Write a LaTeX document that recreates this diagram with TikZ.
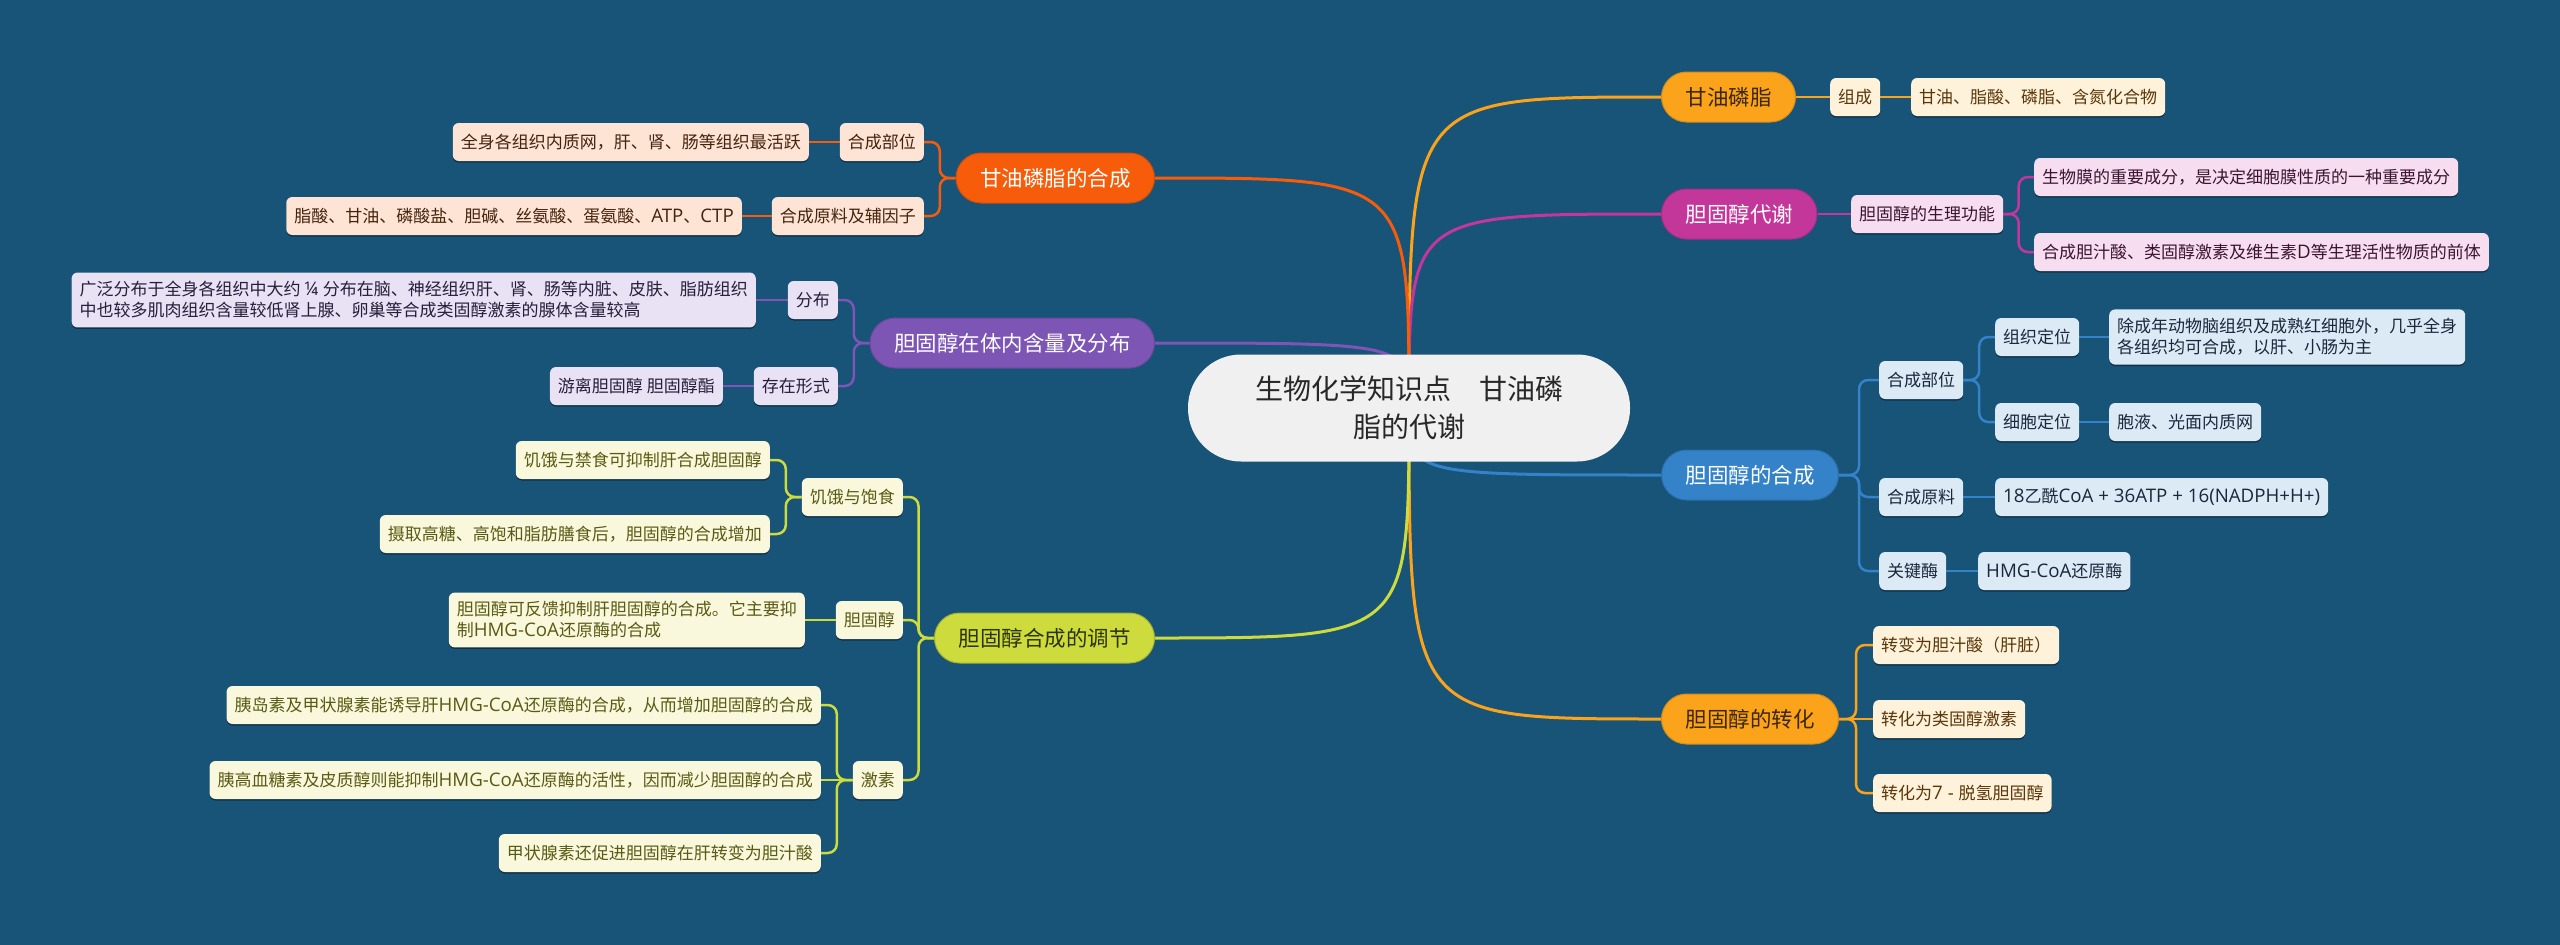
\documentclass[tikz,border=0pt]{standalone}
\usepackage{fontspec}
\setmainfont{Noto Sans CJK SC}
\newfontfamily\lat[Scale=1.1]{Open Sans}
\usetikzlibrary{calc,shadows}
\definecolor{bgc}{RGB}{24,83,120}
\definecolor{rootfill}{RGB}{240,240,240}
\definecolor{roottext}{RGB}{40,40,40}
\definecolor{cA}{RGB}{246,92,10}
\definecolor{fA}{RGB}{253,228,212}
\definecolor{tA}{RGB}{70,35,15}
\definecolor{cB}{RGB}{125,85,180}
\definecolor{fB}{RGB}{232,226,244}
\definecolor{tB}{RGB}{40,30,60}
\definecolor{cC}{RGB}{205,220,60}
\definecolor{fC}{RGB}{249,248,220}
\definecolor{tC}{RGB}{90,90,20}
\definecolor{mtC}{RGB}{45,50,10}
\definecolor{cD}{RGB}{250,163,27}
\definecolor{fD}{RGB}{255,242,218}
\definecolor{tD}{RGB}{90,55,10}
\definecolor{mtD}{RGB}{60,40,5}
\definecolor{cE}{RGB}{195,55,155}
\definecolor{fE}{RGB}{246,222,240}
\definecolor{tE}{RGB}{60,20,50}
\definecolor{cF}{RGB}{52,130,200}
\definecolor{fF}{RGB}{220,234,246}
\definecolor{tF}{RGB}{25,40,60}
\pgfdeclarelayer{bgl}
\pgfdeclarelayer{lines}
\pgfsetlayers{bgl,lines,main}
\newcommand\elb[3]{\draw[subline,#1] let \p1=(#2), \p2=(#3) in (\p1) -- ({(\x1+\x2)/2},\y1) -- ({(\x1+\x2)/2},\y2) -- (\p2);}
\newcommand\sline[3]{\draw[subline,#1] (#2) -- (#3);}
\newcommand\trunk[2]{\draw[mainline,#1] (root.center) .. controls (root.center |- #2) .. (#2);}
\begin{document}
\begin{tikzpicture}[x=1pt,y=-1pt,
  rootnode/.style={fill=rootfill, text=roottext, rounded corners=53pt, minimum width=442pt, minimum height=107pt, align=center, font=\fontsize{28}{38}\selectfont, inner sep=0pt},
  mainnode/.style={rounded corners=25pt, minimum height=50pt, inner xsep=24pt, inner ysep=0pt, font=\fontsize{21.5}{26}\selectfont, line width=1pt},
  mA/.style={mainnode, fill=cA, draw=cA!85!black, text=white},
  mB/.style={mainnode, fill=cB, draw=cB!85!black, text=white},
  mC/.style={mainnode, fill=cC, draw=cC!80!black, text=mtC},
  mD/.style={mainnode, fill=cD, draw=cD!85!black, text=mtD},
  mE/.style={mainnode, fill=cE, draw=cE!85!black, text=white},
  mF/.style={mainnode, fill=cF, draw=cF!85!black, text=white},
  child/.style={rounded corners=6pt, minimum height=38pt, inner xsep=8pt, inner ysep=6pt, font=\fontsize{17}{21}\selectfont, align=left, drop shadow={shadow xshift=0pt, shadow yshift=-1.5pt, opacity=0.4, fill=black}},
  kA/.style={child, fill=fA, text=tA},
  kB/.style={child, fill=fB, text=tB},
  kC/.style={child, fill=fC, text=tC},
  kD/.style={child, fill=fD, text=tD},
  kE/.style={child, fill=fE, text=tE},
  kF/.style={child, fill=fF, text=tF},
  mainline/.style={line width=3pt},
  subline/.style={line width=2.5pt, rounded corners=9pt}
]
\begin{pgfonlayer}{bgl}
\fill[bgc] (0,0) rectangle (2560,945);
\end{pgfonlayer}
\useasboundingbox (0,0) rectangle (2560,945);

% root
\node[rootnode] (root) at (1409,408) {生物化学知识点　甘油磷\\脂的代谢};

% ---------- right side ----------
\node[mD, anchor=west] (d) at (1661,97) {甘油磷脂};
\node[kD, anchor=west] (d1) at (1830,97) {组成};
\node[kD, anchor=west] (d11) at (1911,97) {甘油、脂酸、磷脂、含氮化合物};

\node[mE, anchor=west] (e) at (1661,214) {胆固醇代谢};
\node[kE, anchor=west] (e1) at (1851,214) {胆固醇的生理功能};
\node[kE, anchor=west] (e11) at (2034,177) {生物膜的重要成分，是决定细胞膜性质的一种重要成分};
\node[kE, anchor=west] (e12) at (2034,252) {合成胆汁酸、类固醇激素及维生素{\lat D}等生理活性物质的前体};

\node[mF, anchor=west] (f) at (1661,475) {胆固醇的合成};
\node[kF, anchor=west] (f1) at (1879,380) {合成部位};
\node[kF, anchor=west] (f11) at (1995,337) {组织定位};
\node[kF, anchor=west, inner ysep=9pt] (f111) at (2109,337) {除成年动物脑组织及成熟红细胞外，几乎全身\\各组织均可合成，以肝、小肠为主};
\node[kF, anchor=west] (f12) at (1995,422) {细胞定位};
\node[kF, anchor=west] (f121) at (2109,422) {胞液、光面内质网};
\node[kF, anchor=west] (f2) at (1879,497) {合成原料};
\node[kF, anchor=west] (f21) at (1995,497) {{\lat 18}乙酰{\lat CoA + 36ATP + 16(NADPH+H+)}};
\node[kF, anchor=west] (f3) at (1879,571) {关键酶};
\node[kF, anchor=west] (f31) at (1978,571) {{\lat HMG-CoA}还原酶};

\node[mD, anchor=west] (g) at (1661,719) {胆固醇的转化};
\node[kD, anchor=west] (g1) at (1873,645) {转变为胆汁酸（肝脏）};
\node[kD, anchor=west] (g2) at (1873,719) {转化为类固醇激素};
\node[kD, anchor=west] (g3) at (1873,793) {转化为{\lat 7 - }脱氢胆固醇};

% ---------- left side ----------
\node[mA, anchor=east] (a) at (1155,178) {甘油磷脂的合成};
\node[kA, anchor=east] (a1) at (924,142) {合成部位};
\node[kA, anchor=east] (a11) at (809,142) {全身各组织内质网，肝、肾、肠等组织最活跃};
\node[kA, anchor=east] (a2) at (924,216) {合成原料及辅因子};
\node[kA, anchor=east] (a21) at (742,216) {脂酸、甘油、磷酸盐、胆碱、丝氨酸、蛋氨酸、{\lat ATP}、{\lat CTP}};

\node[mB, anchor=east] (b) at (1155,343) {胆固醇在体内含量及分布};
\node[kB, anchor=east] (b1) at (838,300) {分布};
\node[kB, anchor=east, inner ysep=9pt] (b11) at (756,300) {广泛分布于全身各组织中大约 {\lat ¼} 分布在脑、神经组织肝、肾、肠等内脏、皮肤、脂肪组织\\中也较多肌肉组织含量较低肾上腺、卵巢等合成类固醇激素的腺体含量较高};
\node[kB, anchor=east] (b2) at (838,386) {存在形式};
\node[kB, anchor=east] (b21) at (723,386) {游离胆固醇 胆固醇酯};

\node[mC, anchor=east] (c) at (1155,638) {胆固醇合成的调节};
\node[kC, anchor=east] (c1) at (903,497) {饥饿与饱食};
\node[kC, anchor=east] (c11) at (770,460) {饥饿与禁食可抑制肝合成胆固醇};
\node[kC, anchor=east] (c12) at (770,534) {摄取高糖、高饱和脂肪膳食后，胆固醇的合成增加};
\node[kC, anchor=east] (c2) at (903,620) {胆固醇};
\node[kC, anchor=east, inner ysep=9pt] (c21) at (805,620) {胆固醇可反馈抑制肝胆固醇的合成。它主要抑\\制{\lat HMG-CoA}还原酶的合成};
\node[kC, anchor=east] (c3) at (903,780) {激素};
\node[kC, anchor=east] (c31) at (821,705) {胰岛素及甲状腺素能诱导肝{\lat HMG-CoA}还原酶的合成，从而增加胆固醇的合成};
\node[kC, anchor=east] (c32) at (821,780) {胰高血糖素及皮质醇则能抑制{\lat HMG-CoA}还原酶的活性，因而减少胆固醇的合成};
\node[kC, anchor=east] (c33) at (821,853) {甲状腺素还促进胆固醇在肝转变为胆汁酸};

% ---------- connectors ----------
\begin{pgfonlayer}{lines}
\trunk{cD}{d.west}
\trunk{cE}{e.west}
\trunk{cF}{f.west}
\trunk{cD}{g.west}
\trunk{cA}{a.east}
\trunk{cB}{b.east}
\trunk{cC}{c.east}

\sline{cD}{d.east}{d1.west}
\sline{cD}{d1.east}{d11.west}

\sline{cE}{e.east}{e1.west}
\elb{cE}{e1.east}{e11.west}
\elb{cE}{e1.east}{e12.west}

\elb{cF}{f.east}{f1.west}
\elb{cF}{f.east}{f2.west}
\elb{cF}{f.east}{f3.west}
\elb{cF}{f1.east}{f11.west}
\elb{cF}{f1.east}{f12.west}
\sline{cF}{f11.east}{f111.west}
\sline{cF}{f12.east}{f121.west}
\sline{cF}{f2.east}{f21.west}
\sline{cF}{f3.east}{f31.west}

\elb{cD}{g.east}{g1.west}
\sline{cD}{g.east}{g2.west}
\elb{cD}{g.east}{g3.west}

\elb{cA}{a.west}{a1.east}
\elb{cA}{a.west}{a2.east}
\sline{cA}{a1.west}{a11.east}
\sline{cA}{a2.west}{a21.east}

\elb{cB}{b.west}{b1.east}
\elb{cB}{b.west}{b2.east}
\sline{cB}{b1.west}{b11.east}
\sline{cB}{b2.west}{b21.east}

\elb{cC}{c.west}{c1.east}
\elb{cC}{c.west}{c2.east}
\elb{cC}{c.west}{c3.east}
\elb{cC}{c1.west}{c11.east}
\elb{cC}{c1.west}{c12.east}
\sline{cC}{c2.west}{c21.east}
\elb{cC}{c3.west}{c31.east}
\sline{cC}{c3.west}{c32.east}
\elb{cC}{c3.west}{c33.east}
\end{pgfonlayer}
\end{tikzpicture}
\end{document}
